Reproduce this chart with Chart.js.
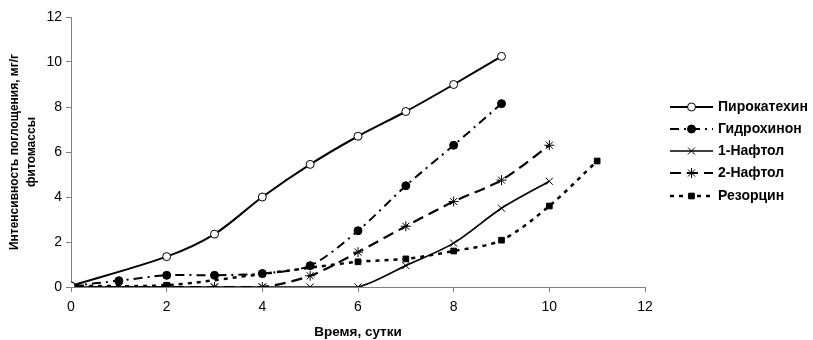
<!DOCTYPE html>
<html>
<head>
<meta charset="utf-8">
<script src="https://cdn.jsdelivr.net/npm/chart.js@4.4.1/dist/chart.umd.min.js"></script>
<style>
html,body{margin:0;padding:0;background:#fff;}
#wrap{width:813px;height:340px;position:relative;}
</style>
</head>
<body>
<div id="wrap"><canvas id="c" width="813" height="340"></canvas></div>
<script>
// ---- data ----
const seriesNames = ["Пирокатехин", "Гидрохинон", "1-Нафтол", "2-Нафтол", "Резорцин"];
const pyroDays   = [0, 2, 3, 4, 5, 6, 7, 8, 9];
const pyroVals   = [0.05, 1.35, 2.35, 4.0, 5.45, 6.7, 7.8, 9.0, 10.25];
const hydroDays  = [0, 1, 2, 3, 4, 5, 6, 7, 8, 9];
const hydroVals  = [0.05, 0.28, 0.52, 0.52, 0.6, 0.95, 2.5, 4.5, 6.3, 8.15];
const naph1Days  = [0, 1, 2, 3, 4, 5, 6, 7, 8, 9, 10];
const naph1Vals  = [0, 0, 0, 0, 0, 0, 0, 0.95, 1.95, 3.5, 4.7];
const naph2Days  = [0, 1, 2, 3, 4, 5, 6, 7, 8, 9, 10];
const naph2Vals  = [0, 0, 0, 0, 0, 0.5, 1.55, 2.7, 3.8, 4.75, 6.3];
const resDays    = [0, 2, 4, 6, 7, 8, 9, 10, 11];
const resVals    = [0.05, 0.08, 0.58, 1.12, 1.25, 1.6, 2.08, 3.6, 5.6];
const xTicks     = [0, 2, 4, 6, 8, 10, 12];
const yTicks     = [0, 2, 4, 6, 8, 10, 12];
const xTitle = "Время, сутки";
const yTitle = ["Интенсивность поглощения, мг/г", "фитомассы"];

function pts(d, v){ return d.map((x,i)=>({x:x, y:v[i]})); }

const FONT = "'Liberation Sans', Arial, sans-serif";

const datasets = [
  {label: seriesNames[0], data: pts(pyroDays, pyroVals), borderColor:'#000', borderWidth:2, borderDash:[],
   pointStyle:'circle', pointRadius:4, pointBackgroundColor:'#fff', pointBorderColor:'#000', pointBorderWidth:1},
  {label: seriesNames[1], data: pts(hydroDays, hydroVals), borderColor:'#000', borderWidth:2, borderDash:[9,5,2,5],
   pointStyle:'circle', pointRadius:4, pointBackgroundColor:'#000', pointBorderColor:'#000', pointBorderWidth:1},
  {label: seriesNames[2], data: pts(naph1Days, naph1Vals), borderColor:'#000', borderWidth:1.7, borderDash:[],
   pointStyle:'crossRot', pointRadius:5, pointBackgroundColor:'#000', pointBorderColor:'#000', pointBorderWidth:1},
  {label: seriesNames[3], data: pts(naph2Days, naph2Vals), borderColor:'#000', borderWidth:2.2, borderDash:[11,6],
   pointStyle:'star', pointRadius:5, pointBackgroundColor:'#000', pointBorderColor:'#000', pointBorderWidth:1},
  {label: seriesNames[4], data: pts(resDays, resVals), borderColor:'#000', borderWidth:2.5, borderDash:[4,5],
   pointStyle:'rect', pointRadius:4, pointBackgroundColor:'#000', pointBorderColor:'#000', pointBorderWidth:1}
];
datasets.forEach(d=>{ d.tension = 0.3; d.fill = false; d.pointHoverRadius = d.pointRadius; });

const legendPlugin = {
  id: 'customLegend',
  afterDraw(chart){
    const ctx = chart.ctx;
    const x0 = 670, x1 = 713, tx = 718;
    const rows = [107, 129, 151, 173, 196];
    chart.data.datasets.forEach((ds, i) => {
      const y = rows[i];
      ctx.save();
      ctx.strokeStyle = ds.borderColor;
      ctx.lineWidth = ds.borderWidth;
      ctx.setLineDash(ds.borderDash || []);
      ctx.beginPath(); ctx.moveTo(x0, y); ctx.lineTo(x1, y); ctx.stroke();
      ctx.setLineDash([]);
      ctx.fillStyle = ds.pointBackgroundColor;
      ctx.strokeStyle = ds.pointBorderColor;
      ctx.lineWidth = ds.pointBorderWidth;
      Chart.helpers.drawPoint(ctx, {pointStyle: ds.pointStyle, radius: ds.pointRadius, rotation: 0, borderWidth: ds.pointBorderWidth}, (x0+x1)/2, y);
      ctx.fillStyle = '#000';
      ctx.font = "bold 14px " + FONT;
      ctx.textBaseline = 'middle';
      ctx.textAlign = 'left';
      ctx.fillText(ds.label, tx, y);
      ctx.restore();
    });
  }
};

new Chart(document.getElementById('c'), {
  type: 'line',
  data: { datasets },
  plugins: [legendPlugin],
  options: {
    responsive: false,
    animation: false,
    events: [],
    layout: { padding: { left: 0, right: 168, top: 17, bottom: 0 } },
    plugins: { legend: { display: false }, tooltip: { enabled: false } },
    scales: {
      x: {
        type: 'linear', min: 0, max: 12,
        afterBuildTicks: s => { s.ticks = xTicks.map(v => ({value: v})); },
        afterFit: s => { s.height = 53; },
        grid: { display: true, drawOnChartArea: false, drawTicks: true, tickLength: 5, color: '#808080', lineWidth: 1 },
        border: { display: true, color: '#808080', width: 1 },
        ticks: { color: '#000', padding: 7, font: { family: FONT, size: 14 }, maxRotation: 0 },
        title: { display: true, text: xTitle, color: '#000', font: { family: FONT, size: 13.5, weight: 'bold' }, padding: { top: 0, bottom: 0 } }
      },
      y: {
        type: 'linear', min: 0, max: 12,
        afterBuildTicks: s => { s.ticks = yTicks.map(v => ({value: v})); },
        afterFit: s => { s.width = 71; },
        grid: { display: true, drawOnChartArea: false, drawTicks: true, tickLength: 5, color: '#808080', lineWidth: 1 },
        border: { display: true, color: '#808080', width: 1 },
        ticks: { color: '#000', padding: 4, font: { family: FONT, size: 14 } },
        title: { display: true, text: yTitle, color: '#000', font: { family: FONT, size: 12, weight: 'bold', lineHeight: 1.35 }, padding: { top: 7, bottom: 0 } }
      }
    }
  }
});
</script>
</body>
</html>
